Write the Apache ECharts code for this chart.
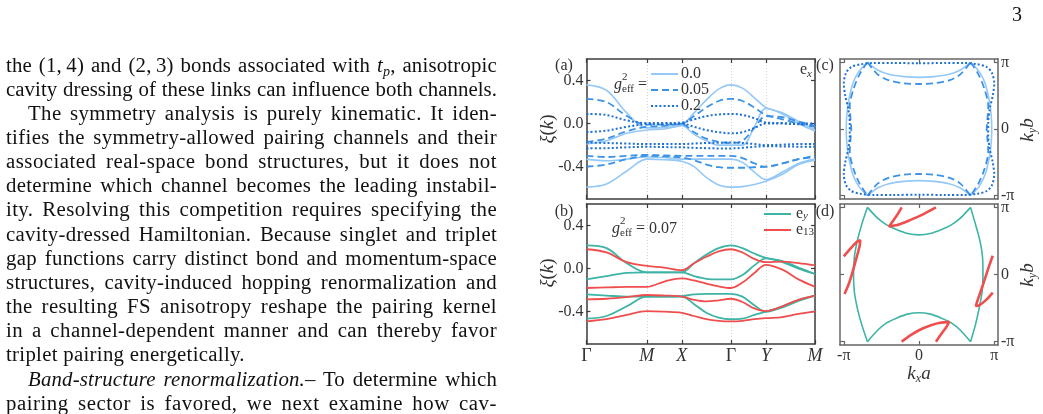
<!DOCTYPE html>
<html>
<head>
<meta charset="utf-8">
<script src="https://cdn.jsdelivr.net/npm/echarts@6/dist/echarts.min.js"></script>
<style>
  body { margin: 0; background: #fff; }
  #page { position: relative; width: 1043px; height: 414px; overflow: hidden; }
  #chart { position: absolute; left: 0; top: 0; width: 1043px; height: 414px; }
  .ln { position: absolute; font-family: 'Liberation Serif', 'Times New Roman', serif; font-size: 20.8px;
        line-height: 24px; color: #111; white-space: nowrap; }
  .ln sub { font-size: 14px; line-height: 0; vertical-align: -4px; }
  #pageno { position: absolute; left: 1012px; top: 3px; font-family: 'Liberation Serif', serif; font-size: 20px; color: #111; }
</style>
</head>
<body>
<div id="page">
  <div id="chart"></div>
  <div id="text"></div>
  <div id="pageno">3</div>
</div>
<script>
// ---- paragraph text (left column) ----
var textLines = [
    ['the (1,&thinsp;4) and (2,&thinsp;3) bonds associated with <i>t<sub>p</sub></i>, anisotropic', 0, 0],
    ['cavity dressing of these links can influence both channels.', 0, 0],
    ['The symmetry analysis is purely kinematic. It iden-', 1, 0],
    ['tifies the symmetry-allowed pairing channels and their', 0, 0],
    ['associated real-space bond structures, but it does not', 0, 0],
    ['determine which channel becomes the leading instabil-', 0, 0],
    ['ity. Resolving this competition requires specifying the', 0, 0],
    ['cavity-dressed Hamiltonian. Because singlet and triplet', 0, 0],
    ['gap functions carry distinct bond and momentum-space', 0, 0],
    ['structures, cavity-induced hopping renormalization and', 0, 0],
    ['the resulting FS anisotropy reshape the pairing kernel', 0, 0],
    ['in a channel-dependent manner and can thereby favor', 0, 0],
    ['triplet pairing energetically.', 0, 1],
    ['<i>Band-structure renormalization.</i>– To determine which', 1, 0],
    ['pairing sector is favored, we next examine how cav-', 0, 0]
];
var textBox = document.getElementById('text');
textLines.forEach(function (l, i) {
    var d = document.createElement('div');
    d.className = 'ln';
    d.style.top = (52.5 + i * 24.16) + 'px';
    d.style.left = (l[1] ? 28 : 6) + 'px';
    d.innerHTML = l[0];
    textBox.appendChild(d);
    // fill the column width: half by letter spacing, half by word spacing
    var target = l[1] ? 469 : 491;
    var txt = d.textContent;
    var nChars = txt.length;
    var nSpaces = (txt.match(/ /g) || []).length;
    var w = d.getBoundingClientRect().width;
    if (l[2]) {
        d.style.letterSpacing = '0.3px';
    } else if (w < target) {
        var extra = target - w;
        d.style.letterSpacing = (extra * 0.5 / nChars) + 'px';
        var w2 = d.getBoundingClientRect().width;
        d.style.wordSpacing = ((target - w2) / Math.max(nSpaces, 1)) + 'px';
    }
});

// ---- chart data ----
// k path Γ-M-X-Γ-Y-M (path length, π/a = 1.4, π/b = 1.0)
var kPath = [0, 0.57, 1.15, 1.72, 2.22, 2.72, 3.07, 3.42, 3.77, 4.12, 4.45, 4.79, 5.12, 5.59, 6.05, 6.52];
var kTicks = [0, 1.72, 2.72, 4.12, 5.12, 6.52];
var kLabels = ['Γ', 'M', 'X', 'Γ', 'Y', 'M'];
var xiTicks = [-0.4, 0, 0.4];
var piTicks = [-1, 0, 1];
var piLabels = ['-π', '0', 'π'];

// (a) bands, g_eff^2 = 0.0 / 0.05 / 0.2
var bandsG0 = [
    [0.36, 0.31, 0.10, -0.04, -0.035, -0.01, 0.10, 0.22, 0.32, 0.36, 0.33, 0.24, 0.15, 0.10, 0.02, -0.06],
    [-0.19, -0.16, -0.09, -0.06, -0.05, -0.02, -0.10, -0.16, -0.20, -0.20, -0.20, -0.03, 0.14, 0.09, 0.0, -0.07],
    [-0.33, -0.345, -0.33, -0.31, -0.315, -0.33, -0.33, -0.33, -0.33, -0.33, -0.36, -0.45, -0.52, -0.45, -0.37, -0.33],
    [-0.59, -0.56, -0.44, -0.33, -0.335, -0.35, -0.40, -0.50, -0.57, -0.59, -0.585, -0.565, -0.535, -0.47, -0.38, -0.34]
];
var bandsG05 = [
    [0.23, 0.20, 0.07, -0.01, -0.01, 0.0, 0.07, 0.15, 0.21, 0.23, 0.21, 0.15, 0.08, 0.06, 0.02, -0.02],
    [-0.17, -0.14, -0.07, -0.03, -0.02, -0.005, -0.08, -0.14, -0.17, -0.18, -0.16, -0.04, 0.07, 0.04, 0.0, -0.03],
    [-0.30, -0.31, -0.30, -0.29, -0.295, -0.30, -0.30, -0.30, -0.30, -0.30, -0.32, -0.37, -0.40, -0.37, -0.33, -0.30],
    [-0.40, -0.38, -0.33, -0.30, -0.305, -0.315, -0.34, -0.38, -0.405, -0.41, -0.41, -0.405, -0.40, -0.37, -0.33, -0.31]
];
var bandsG2 = [
    [0.09, 0.08, 0.03, 0.005, 0.005, 0.01, 0.04, 0.07, 0.085, 0.09, 0.08, 0.05, 0.01, 0.005, 0.0, 0.0],
    [-0.08, -0.065, -0.03, -0.005, -0.003, 0.0, -0.03, -0.06, -0.08, -0.09, -0.08, -0.04, 0.0, 0.0, -0.005, -0.005],
    [-0.175, -0.18, -0.185, -0.19, -0.19, -0.19, -0.185, -0.18, -0.178, -0.175, -0.18, -0.19, -0.20, -0.195, -0.19, -0.19],
    [-0.23, -0.228, -0.22, -0.215, -0.218, -0.22, -0.225, -0.228, -0.23, -0.23, -0.225, -0.215, -0.21, -0.212, -0.214, -0.215]
];

// (b) bands, e_y and e_13 polarisation, g_eff^2 = 0.07
var bandsEy = [
    [0.215, 0.19, 0.05, -0.035, -0.035, -0.035, 0.05, 0.13, 0.19, 0.215, 0.19, 0.14, 0.10, 0.07, 0.01, -0.05],
    [-0.10, -0.07, -0.04, -0.035, -0.035, -0.035, -0.07, -0.095, -0.10, -0.10, -0.06, 0.03, 0.095, 0.06, 0.0, -0.05],
    [-0.24, -0.25, -0.26, -0.26, -0.26, -0.255, -0.24, -0.235, -0.235, -0.235, -0.26, -0.34, -0.40, -0.36, -0.30, -0.25],
    [-0.465, -0.44, -0.35, -0.26, -0.26, -0.26, -0.33, -0.41, -0.455, -0.47, -0.465, -0.43, -0.40, -0.35, -0.29, -0.25]
];
var bandsE13 = [
    [0.18, 0.15, 0.06, 0.025, 0.01, -0.015, 0.05, 0.11, 0.16, 0.18, 0.15, 0.09, 0.06, 0.065, 0.05, 0.03],
    [-0.18, -0.175, -0.17, -0.17, -0.12, -0.09, -0.11, -0.14, -0.165, -0.18, -0.13, -0.04, 0.035, -0.01, -0.10, -0.17],
    [-0.285, -0.28, -0.265, -0.245, -0.25, -0.26, -0.29, -0.305, -0.295, -0.28, -0.31, -0.37, -0.395, -0.35, -0.29, -0.25],
    [-0.49, -0.47, -0.43, -0.395, -0.40, -0.41, -0.44, -0.47, -0.485, -0.49, -0.485, -0.47, -0.46, -0.45, -0.42, -0.40]
];

// (c) Fermi surfaces (kx/π, ky/π)
var fsG0Top = [[-0.685, 1.0], [-0.55, 0.885], [-0.4, 0.82], [-0.2, 0.785], [0, 0.775], [0.2, 0.785], [0.4, 0.82], [0.55, 0.885], [0.685, 1.0]];
var fsG0Bottom = [[-0.685, -1.0], [-0.55, -0.885], [-0.4, -0.82], [-0.2, -0.785], [0, -0.775], [0.2, -0.785], [0.4, -0.82], [0.55, -0.885], [0.685, -1.0]];
var fsG0Left = [[-0.685, 1.0], [-0.8, 0.86], [-0.88, 0.68], [-0.935, 0.42], [-0.96, 0.2], [-0.967, 0], [-0.96, -0.2], [-0.935, -0.42], [-0.88, -0.68], [-0.8, -0.86], [-0.685, -1.0]];
var fsG0Right = [[0.685, 1.0], [0.8, 0.86], [0.88, 0.68], [0.935, 0.42], [0.96, 0.2], [0.967, 0], [0.96, -0.2], [0.935, -0.42], [0.88, -0.68], [0.8, -0.86], [0.685, -1.0]];
var fsG05Top = [[-0.685, 1.0], [-0.55, 0.82], [-0.4, 0.73], [-0.2, 0.685], [0, 0.675], [0.2, 0.685], [0.4, 0.73], [0.55, 0.82], [0.685, 1.0]];
var fsG05Bottom = [[-0.685, -1.0], [-0.55, -0.82], [-0.4, -0.73], [-0.2, -0.685], [0, -0.675], [0.2, -0.685], [0.4, -0.73], [0.55, -0.82], [0.685, -1.0]];
var fsG05Left = [[-0.685, 1.0], [-0.79, 0.82], [-0.87, 0.6], [-0.92, 0.35], [-0.91, 0.15], [-0.9, 0], [-0.91, -0.15], [-0.92, -0.35], [-0.87, -0.6], [-0.79, -0.82], [-0.685, -1.0]];
var fsG05Right = [[0.685, 1.0], [0.79, 0.82], [0.87, 0.6], [0.92, 0.35], [0.91, 0.15], [0.9, 0], [0.91, -0.15], [0.92, -0.35], [0.87, -0.6], [0.79, -0.82], [0.685, -1.0]];
var fsG2 = [[0, 0.985], [0.35, 0.99], [0.6, 0.99], [0.78, 0.97], [0.9, 0.93], [0.97, 0.84], [1.0, 0.68], [0.98, 0.5], [0.94, 0.3], [0.92, 0.1],
    [0.92, -0.1], [0.94, -0.3], [0.98, -0.5], [1.0, -0.68], [0.97, -0.84], [0.9, -0.93], [0.78, -0.97], [0.6, -0.99], [0.35, -0.99], [0, -0.985],
    [-0.35, -0.99], [-0.6, -0.99], [-0.78, -0.97], [-0.9, -0.93], [-0.97, -0.84], [-1.0, -0.68], [-0.98, -0.5], [-0.94, -0.3], [-0.92, -0.1],
    [-0.92, 0.1], [-0.94, 0.3], [-0.98, 0.5], [-1.0, 0.68], [-0.97, 0.84], [-0.9, 0.93], [-0.78, 0.97], [-0.6, 0.99], [-0.35, 0.99], [0, 0.985]];

// (d) Fermi surfaces e_y (teal) and e_13 (red)
var fsEyTop = [[-0.685, 1.0], [-0.55, 0.84], [-0.43, 0.74], [-0.3, 0.67], [-0.15, 0.61], [0, 0.59], [0.15, 0.61], [0.3, 0.67], [0.43, 0.74], [0.55, 0.84], [0.685, 1.0]];
var fsEyBottom = [[-0.685, -1.0], [-0.55, -0.83], [-0.43, -0.72], [-0.3, -0.65], [-0.15, -0.59], [0, -0.57], [0.15, -0.59], [0.3, -0.65], [0.43, -0.72], [0.55, -0.83], [0.685, -1.0]];
var fsEyLeft = [[-0.685, 1.0], [-0.76, 0.75], [-0.82, 0.5], [-0.86, 0.25], [-0.87, 0], [-0.86, -0.25], [-0.82, -0.5], [-0.76, -0.75], [-0.685, -1.0]];
var fsEyRight = [[0.685, 1.0], [0.75, 0.75], [0.81, 0.5], [0.845, 0.25], [0.85, 0], [0.84, -0.25], [0.8, -0.5], [0.75, -0.75], [0.685, -1.0]];
var fsE13Top = [[-0.23, 1.0], [-0.3, 0.87], [-0.37, 0.76], [-0.40, 0.715], [-0.28, 0.74], [-0.12, 0.81], [0.06, 0.9], [0.225, 1.0]];
var fsE13Bottom = [[-0.23, -1.0], [-0.12, -0.91], [0.0, -0.83], [0.15, -0.76], [0.28, -0.72], [0.40, -0.705], [0.37, -0.77], [0.3, -0.88], [0.225, -1.0]];
var fsE13Left = [[-1.0, 0.27], [-0.9, 0.4], [-0.82, 0.49], [-0.78, 0.51], [-0.79, 0.42], [-0.83, 0.25], [-0.88, 0.05], [-0.93, -0.13], [-0.99, -0.29]];
var fsE13Right = [[0.98, 0.28], [0.93, 0.12], [0.88, -0.05], [0.83, -0.22], [0.78, -0.38], [0.755, -0.47], [0.8, -0.46], [0.9, -0.37], [0.98, -0.27]];

// ---- styles ----
var FONT = "'Liberation Serif', 'Times New Roman', serif";
var C_G0 = '#94c8f6', C_G05 = '#3c92e6', C_G2 = '#1e6fd6';
var C_EY = '#3db4a5', C_E13 = '#f04e4e';
var DASH = [7, 4], DOT = [2, 2.2];
var TXT = '#333';

var chart = echarts.init(document.getElementById('chart'));

function makeAxis(grid, pos, min, max, ticks, fmt, frameColor, extra) {
    var a = {
        type: 'value', gridIndex: grid, position: pos, min: min, max: max,
        axisLine: {show: true, onZero: false, lineStyle: {color: frameColor, width: 1.5}},
        axisTick: {show: true, inside: true, length: 4, customValues: ticks, lineStyle: {color: frameColor, width: 1.2}},
        axisLabel: fmt ? {show: true, customValues: ticks, formatter: fmt, margin: 3,
            fontFamily: FONT, fontSize: 16, color: TXT,
            rich: {up: {fontFamily: FONT, fontSize: 18, color: TXT},
                   it: {fontFamily: FONT, fontSize: 18, fontStyle: 'italic', color: TXT}}} : {show: false},
        splitLine: {show: false}
    };
    return Object.assign(a, extra || {});
}
var kGrid = {splitLine: {show: true, lineStyle: {color: '#d4d4d4', width: 1, type: [1, 2]}}};
function kFmt(v) {
    var i = kTicks.findIndex(function (t) { return Math.abs(t - v) < 1e-6; });
    var s = kLabels[i];
    return s === 'Γ' ? '{up|' + s + '}' : '{it|' + s + '}';
}
function xiFmt(v) { return v.toFixed(1); }
function piFmt(v) {
    var i = piTicks.findIndex(function (t) { return Math.abs(t - v) < 1e-6; });
    return piLabels[i];
}
var F1 = '#3c3c3c', F2 = '#666';

var xAxis = [
    makeAxis(0, 'bottom', 0, 6.52, kTicks, null, F1, kGrid),
    makeAxis(0, 'top', 0, 6.52, kTicks, null, F1),
    makeAxis(1, 'bottom', 0, 6.52, kTicks, kFmt, F1, kGrid),
    makeAxis(1, 'top', 0, 6.52, kTicks, null, F1),
    makeAxis(2, 'bottom', -1.05, 1.05, piTicks, null, F2),
    makeAxis(2, 'top', -1.05, 1.05, piTicks, null, F2),
    makeAxis(3, 'bottom', -1.05, 1.05, piTicks, piFmt, F2),
    makeAxis(3, 'top', -1.05, 1.05, piTicks, null, F2)
];
var yAxis = [
    makeAxis(0, 'left', -0.7, 0.6, xiTicks, xiFmt, F1),
    makeAxis(0, 'right', -0.7, 0.6, xiTicks, null, F1),
    makeAxis(1, 'left', -0.7, 0.6, xiTicks, xiFmt, F1),
    makeAxis(1, 'right', -0.7, 0.6, xiTicks, null, F1),
    makeAxis(2, 'left', -1.05, 1.05, piTicks, null, F2),
    makeAxis(2, 'right', -1.05, 1.05, piTicks, piFmt, F2),
    makeAxis(3, 'left', -1.05, 1.05, piTicks, null, F2),
    makeAxis(3, 'right', -1.05, 1.05, piTicks, piFmt, F2)
];

var series = [];
function addLine(name, ax, data, color, width, type, smooth) {
    series.push({
        type: 'line', name: name, xAxisIndex: ax, yAxisIndex: ax, data: data,
        symbol: 'none', showSymbol: false, smooth: smooth, silent: true, animation: false,
        lineStyle: {color: color, width: width, type: type, cap: 'butt'},
        itemStyle: {color: color}
    });
}
function addBands(bands, name, ax, color, width, type) {
    bands.forEach(function (b) {
        addLine(name, ax, kPath.map(function (k, i) { return [k, b[i]]; }), color, width, type, 0.35);
    });
}
addBands(bandsG0, '0.0', 0, C_G0, 1.6, 'solid');
addBands(bandsG05, '0.05', 0, C_G05, 1.8, DASH);
addBands(bandsG2, '0.2', 0, C_G2, 2, DOT);
addBands(bandsEy, 'ey', 2, C_EY, 1.8, 'solid');
addBands(bandsE13, 'e13', 2, C_E13, 1.8, 'solid');

[fsG0Top, fsG0Bottom, fsG0Left, fsG0Right].forEach(function (d) { addLine('c0', 4, d, C_G0, 1.6, 'solid', 0.3); });
[fsG05Top, fsG05Bottom, fsG05Left, fsG05Right].forEach(function (d) { addLine('c05', 4, d, C_G05, 1.8, DASH, 0.3); });
addLine('c2', 4, fsG2, C_G2, 2, DOT, 0.3);
[fsEyTop, fsEyBottom, fsEyLeft, fsEyRight].forEach(function (d) { addLine('dey', 6, d, C_EY, 1.6, 'solid', 0.3); });
[fsE13Top, fsE13Bottom, fsE13Left, fsE13Right].forEach(function (d) { addLine('de13', 6, d, C_E13, 2.6, 'solid', 0.3); });

// ---- annotations ----
var richBase = {
    b: {fontFamily: FONT, fontSize: 16, lineHeight: 20, color: TXT},
    it: {fontFamily: FONT, fontSize: 16, lineHeight: 20, fontStyle: 'italic', color: TXT},
    s: {fontFamily: FONT, fontSize: 11, lineHeight: 11, verticalAlign: 'bottom', color: TXT},
    si: {fontFamily: FONT, fontSize: 11, lineHeight: 11, fontStyle: 'italic', verticalAlign: 'bottom', color: TXT},
    big: {fontFamily: FONT, fontSize: 19, lineHeight: 22, fontStyle: 'italic', color: TXT},
    bigu: {fontFamily: FONT, fontSize: 19, lineHeight: 22, color: TXT},
    bigs: {fontFamily: FONT, fontSize: 12, lineHeight: 12, fontStyle: 'italic', verticalAlign: 'bottom', color: TXT}
};
function label(x, y, text, align, rot) {
    return {
        type: 'text', x: x, y: y, rotation: rot || 0, silent: true,
        style: {text: text, rich: richBase, align: align || 'center', verticalAlign: 'middle',
                fontFamily: FONT, fontSize: 16, fill: TXT}
    };
}
var graphic = [
    label(564, 66, '{b|(a)}'),
    label(564, 212, '{b|(b)}'),
    label(825, 66, '{b|(c)}'),
    label(825, 212, '{b|(d)}'),
    label(548, 129, '{big|ξ}{bigu|(}{big|k}{bigu|)}', 'center', Math.PI / 2),
    label(548, 273, '{big|ξ}{bigu|(}{big|k}{bigu|)}', 'center', Math.PI / 2),
    label(1028, 130, '{big|k}{bigs|y}{big|b}', 'center', Math.PI / 2),
    label(1028, 275, '{big|k}{bigs|y}{big|b}', 'center', Math.PI / 2),
    label(919, 374, '{big|k}{bigs|x}{big|a}'),
    label(812, 70, '{b|e}{si|x}', 'right'),
    label(614, 85, '{it|g}{s|eff}{b| =}', 'left'),
    label(622, 77, '{s|2}', 'left'),
    label(612, 229, '{it|g}{s|eff}{b| = 0.07}', 'left'),
    label(620, 221, '{s|2}', 'left')
];

var legendText = {
    fontFamily: FONT, fontSize: 16, color: TXT,
    rich: {b: {fontFamily: FONT, fontSize: 16, lineHeight: 16, color: TXT},
           s: {fontFamily: FONT, fontSize: 11, lineHeight: 11, verticalAlign: 'bottom', color: TXT},
           si: {fontFamily: FONT, fontSize: 11, lineHeight: 11, fontStyle: 'italic', verticalAlign: 'bottom', color: TXT}}
};

chart.setOption({
    animation: false,
    backgroundColor: 'transparent',
    grid: [
        {left: 586.5, top: 59, width: 228.5, height: 140, outerBoundsMode: 'none'},
        {left: 586.5, top: 204, width: 228.5, height: 140, outerBoundsMode: 'none'},
        {left: 840, top: 59, width: 158, height: 140, outerBoundsMode: 'none'},
        {left: 840, top: 204, width: 158, height: 141, outerBoundsMode: 'none'}
    ],
    xAxis: xAxis,
    yAxis: yAxis,
    legend: [
        {data: ['0.0', '0.05', '0.2'], orient: 'vertical', left: 650, top: 66, padding: 0,
         itemWidth: 27, itemHeight: 10, itemGap: 0, selectedMode: false,
         itemStyle: {opacity: 0}, textStyle: {fontFamily: FONT, fontSize: 16, lineHeight: 14, color: TXT, padding: [0, 0, 0, -2]}},
        {data: ['ey', 'e13'], orient: 'vertical', left: 763, top: 206, padding: 0,
         itemWidth: 27, itemHeight: 10, itemGap: 0, selectedMode: false,
         itemStyle: {opacity: 0},
         formatter: function (n) { return n === 'ey' ? '{b|e}{si|y}' : '{b|e}{s|13}'; },
         textStyle: legendText}
    ],
    graphic: graphic,
    series: series
});
</script>
</body>
</html>
